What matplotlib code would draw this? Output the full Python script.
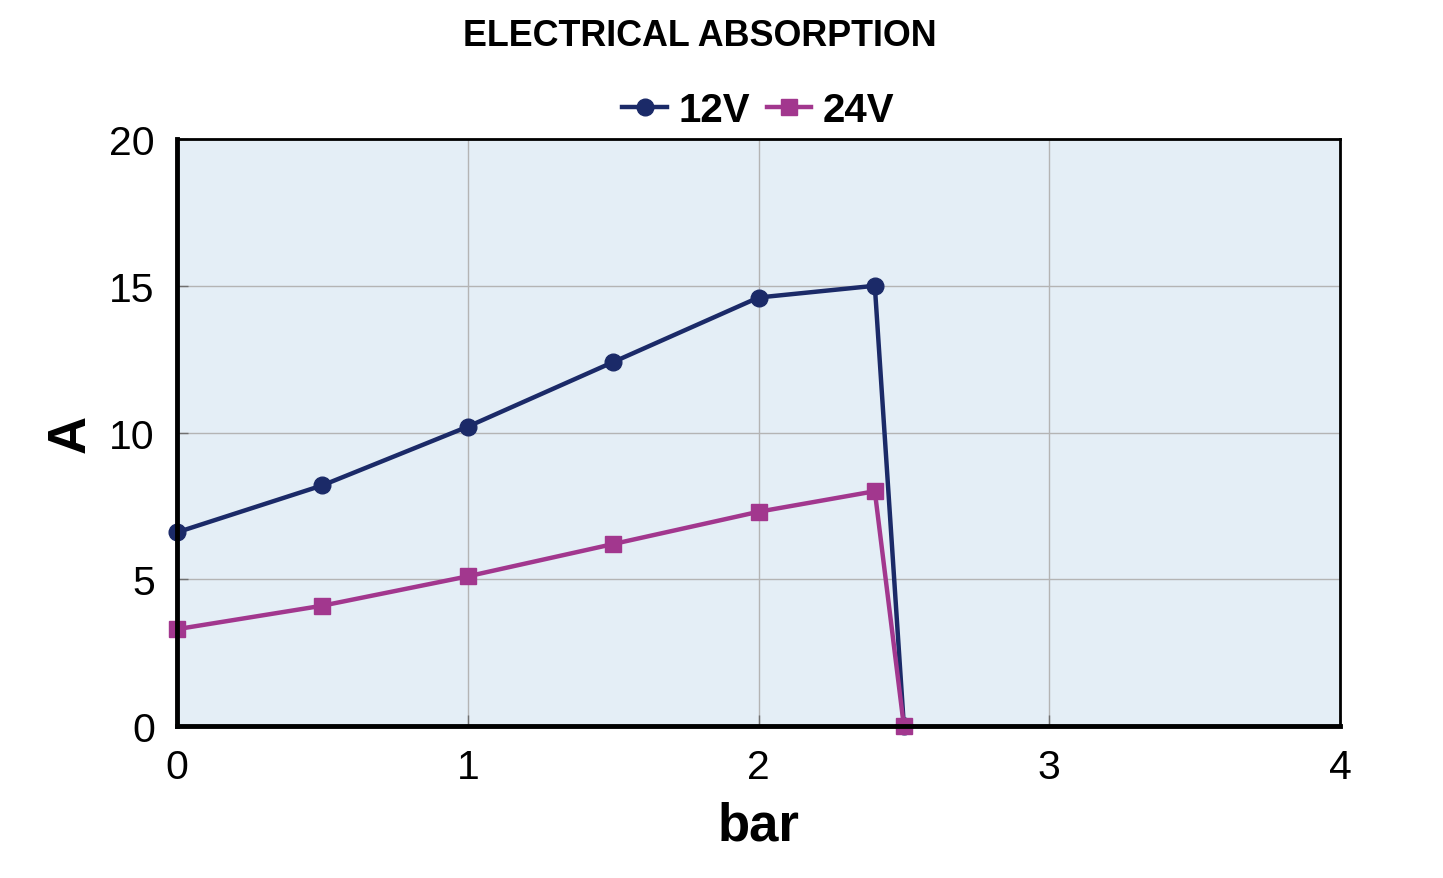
import numpy as np
import matplotlib.pyplot as plt

plt.rcParams["font.family"] = ["Liberation Sans", "DejaVu Sans"]

pressure = [0, 0.5, 1, 1.5, 2, 2.4, 2.5]
amps_12v = [6.6, 8.2, 10.2, 12.4, 14.6, 15.0, 0]
amps_24v = [3.3, 4.1, 5.1, 6.2, 7.3, 8.0, 0]

fig = plt.figure(figsize=(14.43, 8.79), dpi=100)
ax = fig.add_axes([0.1227, 0.1729, 0.8059, 0.6678])
ax.set_facecolor("#e4eef6")

ax.plot(pressure, amps_12v, color="#1b2a68", lw=3.2, marker="o", ms=12, label="12V",
        zorder=3, clip_on=False)
ax.plot(pressure, amps_24v, color="#a2378e", lw=3.2, marker="s", ms=11.5, label="24V",
        zorder=3, clip_on=False)

ax.set_xlim(0, 4)
ax.set_ylim(0, 20)
ax.set_xticks([0, 1, 2, 3, 4])
ax.set_yticks([0, 5, 10, 15, 20])
ax.grid(True, color="#b4b4b4", lw=1)
ax.tick_params(axis="both", direction="in", length=8, width=1, color="#707070",
               labelsize=29.5)
ax.tick_params(axis="y", pad=16)
ax.tick_params(axis="x", pad=16)
for s in ax.spines.values():
    s.set_linewidth(2)
    s.set_zorder(4)
ax.spines["left"].set_linewidth(3.5)
ax.spines["bottom"].set_linewidth(3.5)

ax.set_xlabel("bar", fontsize=38, fontweight="bold", labelpad=10)
ax.set_ylabel("A", fontsize=38, fontweight="bold", labelpad=10)

fig.text(0.485, 0.959, "ELECTRICAL ABSORPTION", ha="center", va="center",
         fontsize=25.8, fontweight="bold")
leg = ax.legend(loc="center", bbox_to_anchor=(0.500, 1.049), ncol=2, frameon=False,
                handlelength=1.1, handletextpad=0.3, columnspacing=0.4,
                prop={"size": 29, "weight": "bold"})

fig.savefig("out.png", dpi=100)
